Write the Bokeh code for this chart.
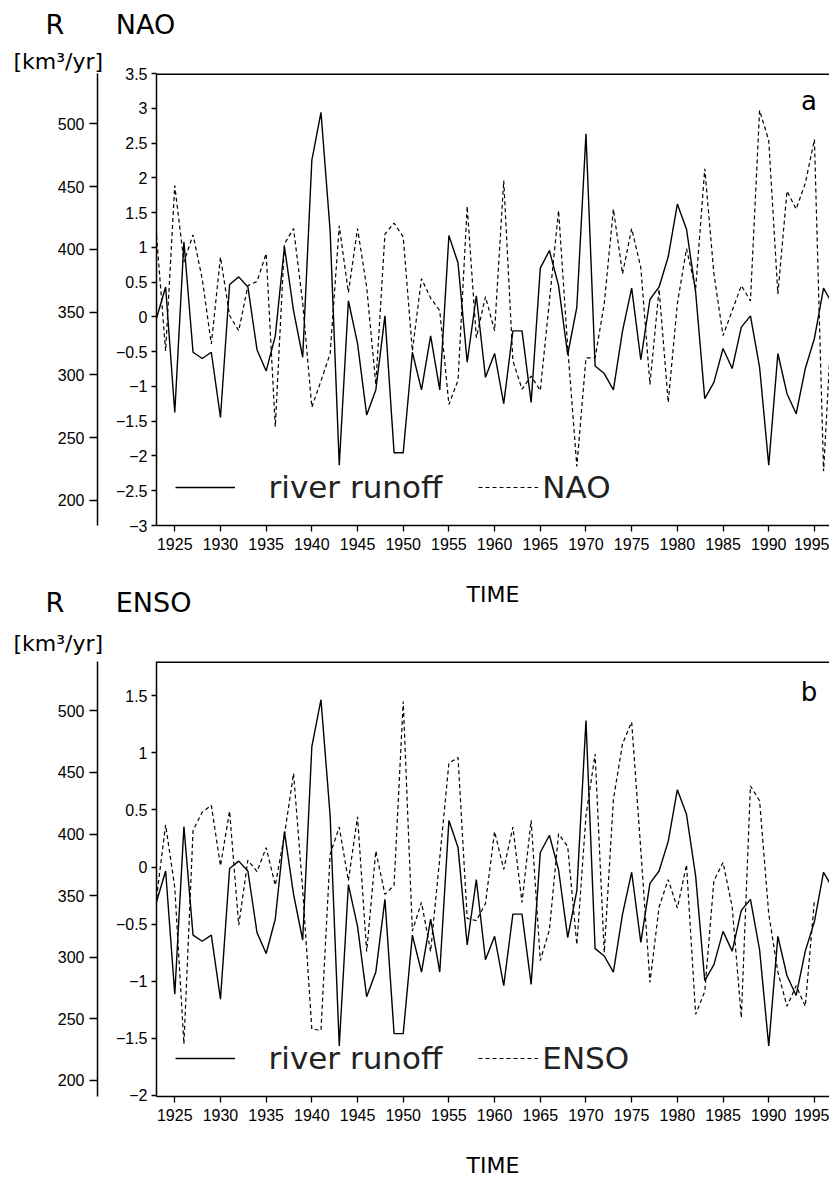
from bokeh.plotting import figure
from bokeh.models import (Range1d, LinearAxis, FixedTicker, Span, Legend, LegendItem,
                          Label, Title)
from bokeh.layouts import column
from bokeh.embed import file_html
from bokeh.resources import INLINE

# ---------------- data ----------------
years = list(range(1923, 1998))
runoff = [345, 370, 270, 406, 318, 313, 318, 266, 372, 378,
          370, 320, 303, 331, 402, 351, 314, 471, 509, 415,
          228, 359, 325, 268, 288, 347, 238, 238, 318, 288,
          331, 288, 411, 389, 310, 363, 298, 317, 277, 335,
          335, 278, 385, 399, 371, 316, 354, 492, 307, 301,
          288, 335, 369, 312, 360, 370, 394, 436, 416, 366,
          281, 294, 321, 305, 338, 347, 306, 228, 317, 285,
          269, 305, 329, 369, 356]
nao = [1.17, -0.49, 1.89, 0.79, 1.18, 0.55, -0.39, 0.86, 0.02, -0.20,
       0.45, 0.51, 0.91, -1.58, 1.05, 1.27, 0.20, -1.30, -0.92, -0.53,
       1.31, 0.35, 1.27, 0.43, -0.97, 1.19, 1.35, 1.15, -0.49, 0.55,
       0.27, 0.09, -1.26, -0.91, 1.59, -0.30, 0.29, -0.20, 1.96, -0.63,
       -1.04, -0.85, -1.06, 0.23, 1.53, -0.44, -2.15, -0.59, -0.59, 0.19,
       1.55, 0.62, 1.27, 0.71, -0.97, 0.40, -1.23, 0.19, 0.98, 0.40,
       2.13, 0.62, -0.27, 0.09, 0.45, 0.23, 2.97, 2.54, 0.33, 1.81,
       1.55, 1.92, 2.55, -2.22, 0.20]
enso_years = list(range(1923, 1996))
enso = [-0.27, 0.37, -0.18, -1.55, 0.32, 0.48, 0.54, 0.01, 0.49, -0.51,
        0.06, -0.04, 0.17, -0.16, 0.28, 0.82, -0.20, -1.42, -1.43, 0.11,
        0.35, -0.12, 0.44, -0.74, 0.14, -0.24, -0.16, 1.45, -0.56, -0.31,
        -0.74, 0.08, 0.91, 0.96, -0.45, -0.47, -0.32, 0.31, -0.02, 0.35,
        -0.31, 0.41, -0.82, -0.55, 0.29, 0.18, -0.68, 0.45, 0.99, -0.75,
        0.59, 1.08, 1.27, 0.15, -1.01, -0.35, -0.11, -0.36, 0.02, -1.29,
        -1.09, -0.12, 0.04, -0.35, -1.32, 0.71, 0.58, -0.41, -0.92, -1.22,
        -1.04, -1.22, -0.29]

x_ticks = [1925, 1930, 1935, 1940, 1945, 1950, 1955, 1960, 1965, 1970,
           1975, 1980, 1985, 1990, 1995]
nao_ticks = [-3, -2.5, -2, -1.5, -1, -0.5, 0, 0.5, 1, 1.5, 2, 2.5, 3, 3.5]
enso_ticks = [-2, -1.5, -1, -0.5, 0, 0.5, 1, 1.5]
runoff_ticks = [200, 250, 300, 350, 400, 450, 500]

TICK_FONT = "Liberation Sans"
TEXT_FONT = "DejaVu Sans"
NB = "\u00a0"


def fmt(t):
    return f"{t:g}".replace("-", "\u2212")


def style_axis(ax, tick_out):
    ax.axis_line_color = "black"
    ax.axis_line_width = 1.5
    ax.major_tick_line_color = "black"
    ax.major_tick_line_width = 1.3
    ax.major_tick_in = 0
    ax.major_tick_out = tick_out
    ax.minor_tick_line_color = None
    ax.major_label_text_font = TICK_FONT
    ax.major_label_text_font_size = "16px"
    ax.major_label_text_color = "black"


def add_titles(p, main_text, km_standoff, main_standoff):
    p.add_layout(Title(text="[km³/yr]", align="left", offset=-143,
                       text_font=TEXT_FONT, text_font_size="22px",
                       text_font_style="normal", text_color="black",
                       standoff=km_standoff), "above")
    p.add_layout(Title(text=main_text, align="left", offset=-111,
                       text_font=TEXT_FONT, text_font_size="27px",
                       text_font_style="normal", text_color="black",
                       standoff=main_standoff), "above")


def panel(index_name, idx_years, idx_vals, y_lo, y_hi, y_ticks, r_lo, r_hi,
          height, border_top, border_bottom, letter, letter_y):
    p = figure(width=829, height=height, x_range=Range1d(1923.0, 1996.65),
               y_range=Range1d(y_lo, y_hi), output_backend="svg",
               toolbar_location=None, title=None,
               min_border_left=156, min_border_right=0,
               min_border_top=border_top, min_border_bottom=border_bottom,
               outline_line_color=None)
    p.grid.visible = False
    p.extra_y_ranges = {"runoff": Range1d(r_lo, r_hi)}

    xa = p.xaxis[0]
    style_axis(xa, 6)
    xa.ticker = FixedTicker(ticks=x_ticks)
    xa.major_label_standoff = 6
    xa.axis_label = "TIME"
    xa.axis_label_text_font = TEXT_FONT
    xa.axis_label_text_font_size = "22px"
    xa.axis_label_text_font_style = "normal"
    xa.axis_label_text_color = "black"
    xa.axis_label_standoff = 29

    ya = p.yaxis[0]
    style_axis(ya, 5)
    ya.ticker = FixedTicker(ticks=y_ticks)
    ya.major_label_overrides = {t: fmt(t) for t in y_ticks}
    ya.major_label_standoff = 4
    ya.axis_label = NB
    ya.axis_label_text_font_size = "8px"
    ya.axis_label_standoff = 3

    ra = LinearAxis(y_range_name="runoff", ticker=FixedTicker(ticks=runoff_ticks))
    style_axis(ra, 8)
    ra.major_label_standoff = 5
    p.add_layout(ra, "left")

    p.add_layout(Span(location=y_hi, dimension="width", line_color="black",
                      line_width=3))

    r1 = p.line(years, runoff, y_range_name="runoff", line_color="black",
                line_width=1.4)
    r2 = p.line(idx_years, idx_vals, line_color="black", line_width=1.2,
                line_dash="4 3")

    legend = Legend(items=[LegendItem(label=NB * 3 + "river runoff", renderers=[r1]),
                           LegendItem(label=index_name, renderers=[r2])],
                    location=(19, 20), orientation="horizontal",
                    glyph_width=60, glyph_height=20, label_standoff=4,
                    spacing=36, padding=0, margin=0, border_line_color=None,
                    background_fill_alpha=0, label_text_font=TEXT_FONT,
                    label_text_font_size="31px", label_text_color="#222222")
    p.add_layout(legend)

    p.add_layout(Label(x=1994.4, y=letter_y, text=letter, text_font=TEXT_FONT,
                       text_font_size="26px", text_align="center",
                       text_baseline="alphabetic", text_color="black"))
    return p


# panel a: frame 73..525 in a 612 px canvas
pa = panel("NAO", years, nao, -3, 3.5, nao_ticks, 180, 540,
           612, 73, 87, "a", 3.1)
add_titles(pa, "R" + NB * 6 + "NAO", 0, 13)

# panel b: canvas starts at 579 (overlapping a's empty corner), frame 660..1103
pb = panel("ENSO", enso_years, enso, -2.01, 1.8, enso_ticks, 187, 540,
           601, 70, 77, "b", 1.53)
add_titles(pb, "R" + NB * 6 + "ENSO", 12, 10)
pb.border_fill_color = None
pb.margin = (-33, 0, 0, 0)

layout = column(pa, pb, spacing=0)
open("out.html", "w").write(file_html(layout, INLINE))
